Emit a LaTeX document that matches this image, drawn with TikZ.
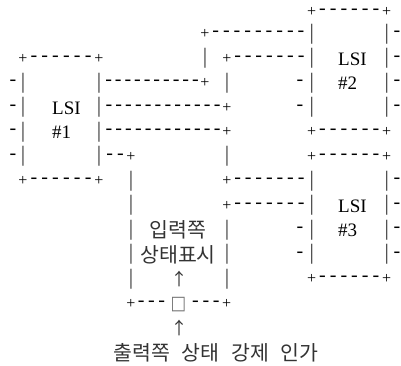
\documentclass[tikz,border=0pt]{standalone}
\usepackage{fontspec}
\setmainfont{Liberation Serif}
\newfontfamily\kofont{Noto Sans CJK KR}
\newfontfamily\symfont{DejaVu Sans}
\newcommand\Pl[3]{\node[pl] (#1) at (#2,#3) {+};}
\newcommand\Vb[3]{\node[vb] (#1) at (#2,#3) {|};}
\newcommand\Hy[3]{\node[hy] (#1) at (#2,#3) {-};}
% name, y, x of glyph before, x of glyph after, number of dashes
\newcommand\Run[5]{\foreach \k in {1,...,#5}{\node[hy] (#1-\k) at ({#3+(#4-#3)*\k/(#5+1)},#2) {-};}}
\begin{document}
\begin{tikzpicture}[x=1pt,y=-1pt,
  glyph/.style={inner sep=0pt,outer sep=0pt},
  pl/.style={glyph,font=\fontsize{16}{16}\selectfont},
  hy/.style={glyph,font=\fontsize{20}{20}\selectfont},
  vb/.style={glyph,text=black!80,font=\fontsize{22}{22}\selectfont},
  lbl/.style={inner sep=0pt,anchor=base west,font=\fontsize{19}{19}\selectfont},
  ko/.style={inner sep=0pt,anchor=base,text=black!80,font=\kofont\fontsize{20.5}{20.5}\selectfont},
  arr/.style={glyph,text=black!80,font=\kofont\fontsize{17}{17}\selectfont},
  tofu/.style={glyph,text=black!55,font=\symfont\fontsize{19}{19}\selectfont}]
\useasboundingbox (0,0) rectangle (401,365);
% row 0
\Pl{t2a}{311.7}{11.5} \Run{t2}{11.5}{311.7}{386.7}{6} \Pl{t2b}{386.7}{11.5}
% row 1
\Pl{e1}{205}{34} \Run{w1}{34}{205}{311.7}{9} \Vb{h1}{311.7}{34} \Vb{i1}{386.7}{34} \Hy{j1}{397}{34}
% row 2
\Pl{t1a}{23}{58.5} \Run{t1}{58.5}{23}{99}{6} \Pl{t1b}{99}{58.5}
\Vb{e2}{205}{58.5}
\Pl{f2}{227}{58.5} \Run{w2}{58.5}{227}{311.7}{7} \Vb{h2}{311.7}{58.5}
\node[lbl] (lsi2) at (338,65) {LSI};
\Vb{i2}{386.7}{58.5} \Hy{j2}{397}{58.5}
% row 3
\Hy{a3}{13}{83} \Vb{b3}{23}{83} \Vb{c3}{99}{83} \Run{w3}{83}{99}{205}{10} \Pl{e3}{205}{83}
\Vb{f3}{227}{83} \Hy{g3}{300}{83} \Vb{h3}{311.7}{83}
\node[lbl] (lsi2n) at (338,89.5) {\#2};
\Vb{i3}{386.7}{83} \Hy{j3}{397}{83}
% row 4
\Hy{a4}{13}{107.5} \Vb{b4}{23}{107.5}
\node[lbl] (lsi1) at (52,114) {LSI};
\Vb{c4}{99}{107.5} \Run{w4}{107.5}{99}{227}{12} \Pl{f4}{227}{107.5}
\Hy{g4}{300}{107.5} \Vb{h4}{311.7}{107.5} \Vb{i4}{386.7}{107.5} \Hy{j4}{397}{107.5}
% row 5
\Hy{a5}{13}{132} \Vb{b5}{23}{132}
\node[lbl] (lsi1n) at (52,138.5) {\#1};
\Vb{c5}{99}{132} \Run{w5}{132}{99}{227}{12} \Pl{f5}{227}{132}
\Pl{b2a}{311.7}{132} \Run{b2}{132}{311.7}{386.7}{6} \Pl{b2b}{386.7}{132}
% row 6
\Hy{a6}{13}{156.5} \Vb{b6}{23}{156.5} \Vb{c6}{99}{156.5} \Run{w6}{156.5}{99}{131}{2} \Pl{d6}{131}{156.5}
\Vb{f6}{227}{156.5}
\Pl{t3a}{311.7}{156.5} \Run{t3}{156.5}{311.7}{386.7}{6} \Pl{t3b}{386.7}{156.5}
% row 7
\Pl{b1a}{23}{181} \Run{b1}{181}{23}{99}{6} \Pl{b1b}{99}{181}
\Vb{d7}{131}{181}
\Pl{f7}{227}{181} \Run{w7}{181}{227}{311.7}{7} \Vb{h7}{311.7}{181} \Vb{i7}{386.7}{181} \Hy{j7}{397}{181}
% row 8
\Vb{d8}{131}{205.5}
\Pl{f8}{227}{205.5} \Run{w8}{205.5}{227}{311.7}{7} \Vb{h8}{311.7}{205.5}
\node[lbl] (lsi3) at (338,212) {LSI};
\Vb{i8}{386.7}{205.5} \Hy{j8}{397}{205.5}
% row 9
\Vb{d9}{131}{230}
\node[ko] (in1) at (178,237.6) {입력쪽};
\Vb{f9}{227}{230} \Hy{g9}{300}{230} \Vb{h9}{311.7}{230}
\node[lbl] (lsi3n) at (338,236.5) {\#3};
\Vb{i9}{386.7}{230} \Hy{j9}{397}{230}
% row 10
\Vb{d10}{131}{254.5}
\node[ko] (in2) at (178,262) {상태표시};
\Vb{f10}{227}{254.5} \Hy{g10}{300}{254.5} \Vb{h10}{311.7}{254.5} \Vb{i10}{386.7}{254.5} \Hy{j10}{397}{254.5}
% row 11
\Vb{d11}{131}{279}
\node[arr] (up1) at (179,279) {↑};
\Vb{f11}{227}{279}
\Pl{b3a}{311.7}{279} \Run{b3}{279}{311.7}{386.7}{6} \Pl{b3b}{386.7}{279}
% row 12
\Pl{d12}{131}{303.5} \Run{u1}{303.5}{131}{172}{3}
\node[tofu] (cell) at (178.5,304.5) {\scalebox{0.87}[1]{□}};
\Run{u2}{303.5}{185}{226.7}{3} \Pl{f12}{226.7}{303.5}
% row 13
\node[arr] (up2) at (179,328) {↑};
% row 14
\node[ko] (out) at (216,360) {\spaceskip=11.8pt 출력쪽 상태 강제 인가};
\end{tikzpicture}
\end{document}
